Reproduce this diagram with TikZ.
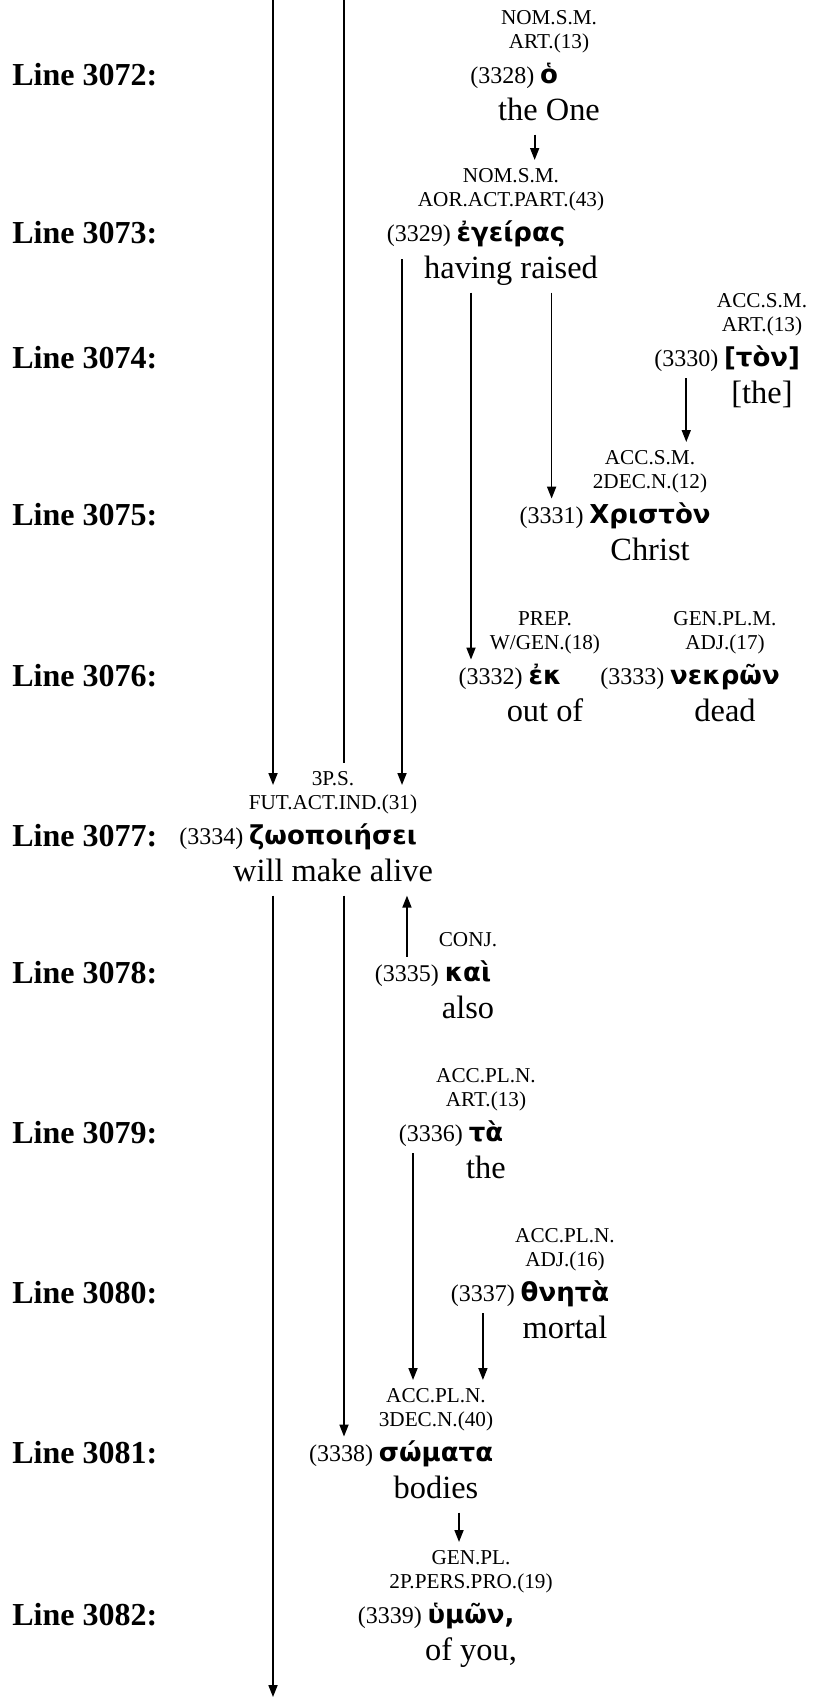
\documentclass[tikz,border=0pt]{standalone}
\usepackage{fontspec}
\setmainfont{Liberation Serif}
\newfontfamily\grk[Script=Greek]{DejaVu Sans}
\usetikzlibrary{positioning,arrows.meta}

\begin{document}
\begin{tikzpicture}[x=0.5pt,y=-0.5pt,
    tag/.style={inner sep=0pt, font=\fontsize{10.6}{12}\selectfont, text height=7.9pt, text depth=2.7pt},
    nr/.style={inner sep=0pt, font=\fontsize{12}{14}\selectfont, text height=9pt, text depth=3pt},
    grkword/.style={inner sep=0pt, font=\grk\bfseries\fontsize{13}{15}\selectfont, text height=9.8pt, text depth=3.2pt},
    gloss/.style={inner sep=0pt, font=\fontsize{16.2}{18}\selectfont, text height=12.2pt, text depth=4pt},
    linelabel/.style={anchor=west, inner sep=0pt, font=\bfseries\fontsize{16}{18}\selectfont, text height=12pt, text depth=4pt},
    link/.style={line width=0.85pt, shorten <=3pt, shorten >=3pt},
    arr/.style={link, -{Triangle[length=6pt,width=4.5pt]}}
]
    \useasboundingbox (0,0) rectangle (814,1697);

    % Words: greek, number, two tag lines, gloss
    \foreach \id/\x/\y/\wnum/\gw/\ta/\tb/\gl in {
        3072/549/77/3328/ὁ/NOM.S.M./ART.(13)/the One,
        3073/511/235/3329/ἐγείρας/NOM.S.M./AOR.ACT.PART.(43)/having raised,
        3074/762/360/3330/[τὸν]/ACC.S.M./ART.(13)/[the],
        3075/650/517/3331/Χριστὸν/ACC.S.M./2DEC.N.(12)/Christ,
        3076/545/678/3332/ἐκ/PREP./{W/GEN.(18)}/out of,
        3076b/725/678/3333/νεκρῶν/GEN.PL.M./ADJ.(17)/dead,
        3077/333/838/3334/ζωοποιήσει/3P.S./FUT.ACT.IND.(31)/will make alive,
        3078/468/975/3335/καὶ/{}/CONJ./also,
        3079/486/1135/3336/τὰ/ACC.PL.N./ART.(13)/the,
        3080/565/1295/3337/θνητὰ/ACC.PL.N./ADJ.(16)/mortal,
        3081/436/1455/3338/σώματα/ACC.PL.N./3DEC.N.(40)/bodies,
        3082/471/1617/3339/{ὑμῶν,}/GEN.PL./2P.PERS.PRO.(19)/{of you,}
    } {
        \node[grkword] (w\id) at (\x,\y) {\gw};
        \node[nr, left=2.5pt of w\id] (n\id) {(\wnum)};
        \node[tag, on grid, above=17pt of w\id] (b\id) {\tb};
        \ifx\ta\empty\else
            \node[tag, on grid, above=12pt of b\id] (a\id) {\ta};
        \fi
        \node[gloss, on grid, below=17.5pt of w\id] (g\id) {\gl};
    }

    % Line labels
    \coordinate (lm) at (12,0);
    \foreach \id in {3072,...,3082}
        \node[linelabel] (l\id) at (lm |- w\id) {Line \id:};

    % Columns of the long connectors
    \coordinate (xA) at (273,0);
    \coordinate (xB) at (344,0);
    \coordinate (xC) at (402,0);
    \coordinate (xD) at (471,0);
    \coordinate (xG) at (413,0);
    \coordinate (xK) at (459,0);
    \coordinate (bot) at (273,1697);

    % Into line 3077
    \draw[arr, shorten <=0pt] (xA) -- (xA |- a3077.south);
    \draw[link, shorten <=0pt] (xB) -- (xB |- a3077.north);
    \draw[arr] (xC |- g3073.north) -- (xC |- a3077.south);

    % Lines 3072 to 3076
    \draw[arr] (n3072.east |- g3072.south) -- (n3072.east |- a3073.north);
    \draw[arr] (xD |- g3073.south) -- (xD |- n3076.north);
    \draw[arr] (n3075.center |- g3073.south) -- (n3075.north);
    \draw[arr] (n3074.south) -- (n3074.south |- a3075.north);

    % Out of line 3077
    \draw[arr, shorten >=0pt] (xA |- g3077.south) -- (bot);
    \draw[arr] (xB |- g3077.south) -- (xB |- n3081.north);
    \draw[arr] (n3078.north) -- (n3078.north |- g3077.south);

    % Lines 3079 to 3082
    \draw[arr] (xG |- n3079.south) -- (xG |- a3081.north);
    \draw[arr] (n3080.south) -- (n3080.south |- a3081.north);
    \draw[arr] (xK |- g3081.south) -- (xK |- a3082.north);
\end{tikzpicture}
\end{document}
